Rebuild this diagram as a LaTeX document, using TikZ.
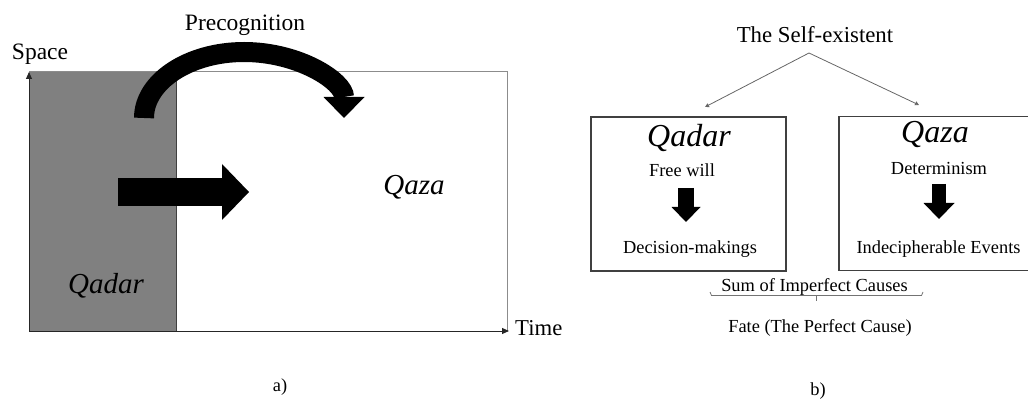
\documentclass[tikz,border=0pt]{standalone}
\usepackage{fontspec}
\setmainfont{Liberation Serif}
\usetikzlibrary{arrows.meta}
\begin{document}
\begin{tikzpicture}[x=1pt,y=1pt,
    lbl/.style={font=\fontsize{18.4}{22}\selectfont, inner sep=0pt, anchor=base},
    biglbl/.style={font=\fontsize{23.5}{28}\selectfont, inner sep=0pt, anchor=base},
    qname/.style={font=\fontsize{#1}{#1}\selectfont\itshape, inner sep=0pt, anchor=base},
    box/.style={draw=black!75, line width=1.2pt, minimum width=195pt, minimum height=154pt, inner sep=0pt},
    axis/.style={black!85, line width=0.9pt, -{Triangle[width=6pt,length=7pt]}},
    thinarrow/.style={black!60, line width=0.8pt, -{Triangle[width=4pt,length=4pt]}}]

    \useasboundingbox (0,0) rectangle (1028,402);
    \clip (0,0) rectangle (1028,402);

    % a) space-time plane
    \fill[black!50] (29,71) rectangle (176,331);
    \draw[black!75, line width=0.8pt] (176,71) -- (176,331);
    \draw[black!45, line width=0.8pt] (29,331) -- (507,331) -- (507,71);
    \coordinate (origin) at (29,71);
    \coordinate (spacetip) at (29,330);
    \coordinate (timetip) at (509,71);
    \draw[axis] (origin) -- (spacetip);
    \draw[axis] (origin) -- (timetip);

    \draw[line width=20pt, -{Triangle[width=41pt,length=21pt,line width=0pt]}]
        (144,284) arc[start angle=180, end angle=0, x radius=100, y radius=66];
    \draw[line width=28pt, -{Triangle[width=56pt,length=27pt,line width=0pt]}]
        (118,210) -- (249,210);

    \node[biglbl] (space) at (40,342) {Space};
    \node[biglbl] (precog) at (245,371) {Precognition};
    \node[biglbl, anchor=base west, font=\fontsize{22.7}{27}\selectfont] (time) at (515,67) {Time};
    \node[qname=29] (qazaa) at (414,207) {Qaza};
    \node[qname=29] (qadara) at (106,109) {Qadar};
    \node[lbl] (capa) at (280,11) {a)};

    % b) the two boxes
    \node[biglbl, font=\fontsize{22.8}{27}\selectfont] (self) at (815,359) {The Self-existent};
    \node[box] (qadarbox) at (688.5,208) {};
    \node[box, minimum width=196pt] (qazabox) at (937,208.5) {};
    \coordinate (apex) at (809,349);
    \coordinate (qadartip) at (705,295);
    \coordinate (qazatip) at (919,297);
    \draw[thinarrow] (apex) -- (qadartip);
    \draw[thinarrow] (apex) -- (qazatip);

    \node[qname=32] (qadarb) at (689,255) {Qadar};
    \node[lbl] (freewill) at (682,225) {Free will};
    \node[lbl] (decision) at (690,149) {Decision-makings};
    \draw[line width=16pt, -{Triangle[width=29pt,length=15pt,line width=0pt]}] (686,214) -- (686,180);

    \node[qname=32] (qazab) at (935,259) {Qaza};
    \node[lbl] (determ) at (939,227) {Determinism};
    \node[lbl] (events) at (938.5,149) {Indecipherable Events};
    \draw[line width=14pt, -{Triangle[width=31pt,length=16pt,line width=0pt]}] (939,218) -- (939,183);

    % bracket under the sum
    \node[lbl] (sum) at (814.5,111) {Sum of Imperfect Causes};
    \draw[black!55, line width=0.8pt] (710,110) -- (711.5,106.5) -- (921.5,106.5) -- (923,110);
    \draw[black!55, line width=0.8pt] (816,106.5) -- (816,101);
    \node[lbl] (fate) at (820,70) {Fate (The Perfect Cause)};
    \node[lbl] (capb) at (818,7) {b)};
\end{tikzpicture}
\end{document}
